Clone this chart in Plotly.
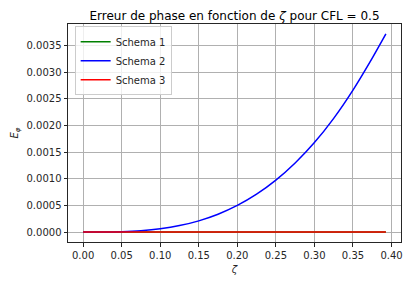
import plotly.graph_objects as go

zeta = [0.0, 0.025, 0.05, 0.075, 0.1, 0.125, 0.15, 0.175, 0.2, 0.225, 0.25,
        0.275, 0.3, 0.325, 0.35, 0.375, 0.3927]
schema1 = [0.0] * len(zeta)
schema2 = [0.0, 0.000001, 0.0000078, 0.0000264, 0.0000625, 0.000122, 0.000211,
           0.000335, 0.000500, 0.000711, 0.000975, 0.001297, 0.001680, 0.002135,
           0.002665, 0.003265, 0.003720]
schema3 = [0.0] * len(zeta)

names = ["Schema 1", "Schema 2", "Schema 3"]
colors = ["#008000", "#0000ff", "#ff0000"]
series = [schema1, schema2, schema3]

xticks = [0.0, 0.05, 0.10, 0.15, 0.20, 0.25, 0.30, 0.35, 0.40]
yticks = [0.0, 0.0005, 0.0010, 0.0015, 0.0020, 0.0025, 0.0030, 0.0035]

fig = go.Figure()
for n, c, s in zip(names, colors, series):
    fig.add_trace(go.Scatter(x=zeta, y=s, mode="lines", name=n,
                             line=dict(color=c, width=1.5, shape="spline", smoothing=0.6)))

font = dict(family="DejaVu Sans", size=10, color="#262626")
axis_common = dict(showline=True, linecolor="#262626", linewidth=1, mirror=True,
                   ticks="outside", ticklen=3.5, tickcolor="#262626",
                   showgrid=True, gridcolor="#b0b0b0", gridwidth=0.8,
                   zeroline=False, tickfont=font)

fig.update_layout(
    width=411, height=284,
    margin=dict(l=68, r=8, t=24, b=42),
    paper_bgcolor="white", plot_bgcolor="white",
    font=font,
    title=dict(text="Erreur de phase en fonction de <i>ζ</i> pour CFL = 0.5",
               x=0.5, xref="paper", y=1, yref="paper", yanchor="bottom",
               pad=dict(b=4), font=dict(family="DejaVu Sans", size=12, color="#000000")),
    xaxis=dict(range=[-0.0196, 0.4123], tickvals=xticks,
               ticktext=[f"{v:.2f}" for v in xticks],
               title=dict(text="<i>ζ</i>", standoff=6, font=dict(size=10)), **axis_common),
    yaxis=dict(range=[-0.000186, 0.003906], tickvals=yticks,
               ticktext=[f"{v:.4f}" for v in yticks],
               title=dict(text="<i>E</i><sub><i>φ</i></sub>", standoff=6, font=dict(size=10)),
               **axis_common),
    legend=dict(x=0.02, y=0.99, xanchor="left", yanchor="top",
                bgcolor="rgba(255,255,255,0.8)", bordercolor="#cccccc", borderwidth=1,
                font=font, tracegroupgap=0, itemwidth=30),
    showlegend=True,
)

fig.write_html("out.html")
